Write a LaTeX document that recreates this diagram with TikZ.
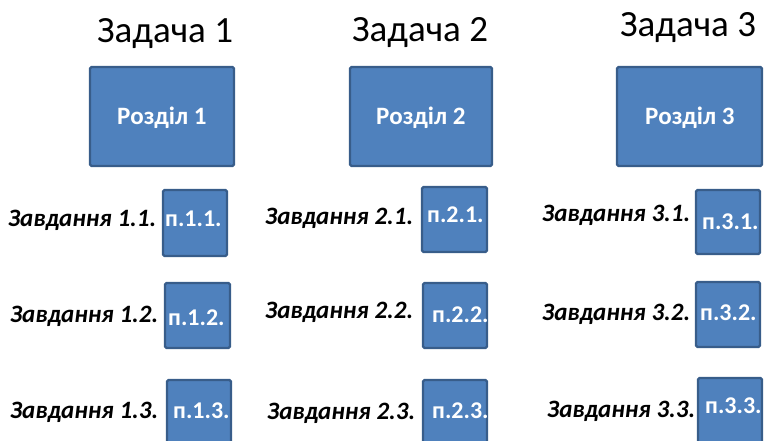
\documentclass[tikz,border=0pt]{standalone}
\usepackage{fontspec}
\setmainfont{Carlito}
\definecolor{boxfill}{HTML}{4F81BD}
\definecolor{boxline}{HTML}{385D8A}
\begin{document}
\begin{tikzpicture}[x=1pt,y=-1pt,
  bluebox/.style={draw=boxline,fill=boxfill,line width=2.2pt,rounded corners=1.5pt},
  title/.style={inner sep=0pt,anchor=base west,font=\fontsize{37}{41}\selectfont},
  boxtext/.style={inner sep=0pt,anchor=base west,text=white,font=\fontsize{24}{28}\selectfont\bfseries},
  sectext/.style={boxtext,font=\fontsize{25}{29}\selectfont\bfseries},
  tasklabel/.style={inner sep=0pt,anchor=base west,font=\fontsize{25}{29}\selectfont\bfseries\itshape}]
\useasboundingbox (0,0) rectangle (764,441);
% titles
\node[title] (t1) at (97,43) {Задача 1};
\node[title] (t2) at (352,42) {Задача 2};
\node[title] (t3) at (620,37) {Задача 3};
% section boxes
\draw[bluebox] (90,67) rectangle (234,166);
\draw[bluebox] (350,67) rectangle (492,166);
\draw[bluebox] (617,67) rectangle (762,166);
\node[sectext] (r1) at (117,125) {Розділ 1};
\node[sectext] (r2) at (376,125) {Розділ 2};
\node[sectext] (r3) at (645,125) {Розділ 3};
% small boxes
\draw[bluebox] (163,190) rectangle (227,256);
\draw[bluebox] (165,283) rectangle (230,348);
\draw[bluebox] (167,380) rectangle (231,450);
\draw[bluebox] (422,187) rectangle (487,252);
\draw[bluebox] (423,283) rectangle (487,348);
\draw[bluebox] (423,380) rectangle (487,450);
\draw[bluebox] (696,190) rectangle (760,254);
\draw[bluebox] (696,282) rectangle (760,347);
\draw[bluebox] (698,378) rectangle (762,450);
\node[boxtext] (p11) at (165,227) {п.1.1.};
\node[boxtext] (p12) at (168,325) {п.1.2.};
\node[boxtext] (p13) at (173,418) {п.1.3.};
\node[boxtext] (p21) at (427,223) {п.2.1.};
\node[boxtext] (p22) at (432,322) {п.2.2.};
\node[boxtext] (p23) at (432,418) {п.2.3.};
\node[boxtext] (p31) at (702,230) {п.3.1.};
\node[boxtext] (p32) at (700,320) {п.3.2.};
\node[boxtext] (p33) at (705,413) {п.3.3.};
% task labels
\node[tasklabel] (z11) at (8,227) {Завдання 1.1.};
\node[tasklabel] (z12) at (10,323) {Завдання 1.2.};
\node[tasklabel] (z13) at (10,418) {Завдання 1.3.};
\node[tasklabel] (z21) at (265,225) {Завдання 2.1.};
\node[tasklabel] (z22) at (265,318) {Завдання 2.2.};
\node[tasklabel] (z23) at (267,419) {Завдання 2.3.};
\node[tasklabel] (z31) at (542,222) {Завдання 3.1.};
\node[tasklabel] (z32) at (542,320) {Завдання 3.2.};
\node[tasklabel] (z33) at (547,417) {Завдання 3.3.};
\end{tikzpicture}
\end{document}
